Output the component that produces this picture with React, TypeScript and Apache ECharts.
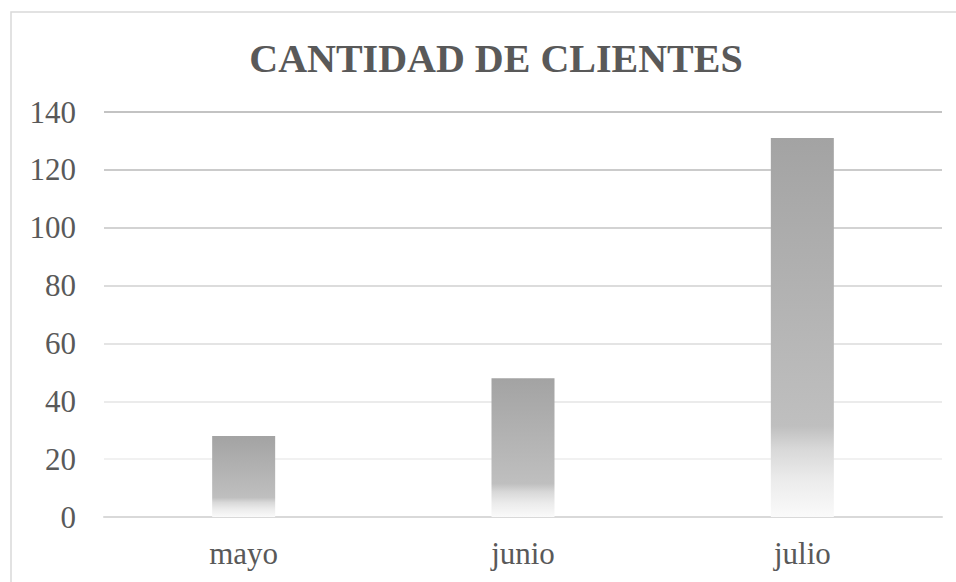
import React, { useEffect, useRef } from "react";
import * as echarts from "echarts";

const categories = ["mayo", "junio", "julio"];
const clientes = [28, 48, 131];
const yTicks = { min: 0, max: 140, interval: 20 };
const titleText = "CANTIDAD DE CLIENTES";
// grid line shades from 0 up to 140
const gridShades = ["#d9d9d9", "#f1f1f1", "#ebebeb", "#e4e4e4", "#dcdcdc", "#d3d3d3", "#cbcbcb", "#c3c3c3"];

export default function App() {
  const ref = useRef<HTMLDivElement>(null);
  useEffect(() => {
    if (!ref.current) return;
    const chart = echarts.init(ref.current, undefined, { renderer: "svg" });
    const font = "Liberation Serif";
    chart.setOption({
      animation: false,
      backgroundColor: "#ffffff",
      graphic: [
        {
          type: "rect",
          shape: { x: 11, y: 12, width: 980, height: 600 },
          style: { fill: "none", stroke: "#d9d9d9", lineWidth: 1.5 },
          silent: true,
        },
      ],
      title: {
        text: titleText,
        left: 491,
        textAlign: "center",
        top: 33,
        textStyle: { fontFamily: font, fontSize: 40, fontWeight: "bold", color: "#595959" },
      },
      grid: { left: 104, right: 14, top: 112, bottom: 65, containLabel: false },
      xAxis: {
        type: "category",
        data: categories,
        axisLine: { lineStyle: { color: "#d9d9d9", width: 2 } },
        axisTick: { show: false },
        axisLabel: { fontFamily: font, fontSize: 31, color: "#595959", margin: 21 },
      },
      yAxis: {
        type: "value",
        min: yTicks.min,
        max: yTicks.max,
        interval: yTicks.interval,
        axisLine: { show: false },
        axisTick: { show: false },
        axisLabel: { fontFamily: font, fontSize: 31, color: "#595959", margin: 28 },
        splitLine: { lineStyle: { color: gridShades, width: 2 } },
      },
      series: [
        {
          type: "bar",
          data: clientes,
          barWidth: 63,
          itemStyle: {
            color: new echarts.graphic.LinearGradient(0, 0, 0, 1, [
              { offset: 0, color: "#a3a3a3" },
              { offset: 0.76, color: "#bfbfbf" },
              { offset: 0.82, color: "#d8d8d8" },
              { offset: 0.9, color: "#ebebeb" },
              { offset: 1, color: "#fafafa" },
            ]),
          },
        },
      ],
    });
    return () => chart.dispose();
  }, []);
  return (
    <div
      ref={ref}
      style={{ position: "fixed", left: 0, top: 0, width: 956, height: 582 }}
    />
  );
}
